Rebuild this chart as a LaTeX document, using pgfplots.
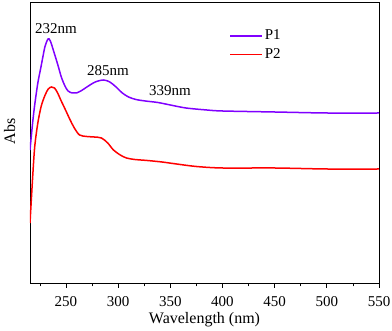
\documentclass[border=0pt]{standalone}
\usepackage{fontspec}
\setmainfont{Liberation Serif}
\usepackage{pgfplots}
\pgfplotsset{compat=1.18}
\definecolor{pviolet}{RGB}{128,0,255}
\definecolor{pred}{RGB}{255,0,0}

\begin{document}
\fontsize{15}{18}\selectfont
\begin{tikzpicture}
\begin{axis}[
  at={(30pt,48pt)}, anchor=south west,
  scale only axis,
  width=349pt, height=281pt,
  xmin=215.5, xmax=550,
  ymin=0, ymax=281,
  xtick={250,300,...,550},
  minor xtick={225,275,...,525},
  ytick=\empty,
  xtick pos=bottom,
  tick align=outside,
  major tick length=5pt,
  minor tick length=3.5pt,
  every tick/.style={black, line width=0.8pt},
  axis line style={line width=0.9pt},
  /pgf/number format/assume math mode=true,
  xticklabel style={font=\fontsize{15}{18}\selectfont, yshift=-3pt},
  xlabel={Wavelength (nm)},
  ylabel={Abs},
  xlabel style={font=\fontsize{16}{18}\selectfont,
                at={(axis description cs:0.5,0)}, anchor=center, yshift=-37pt},
  ylabel style={font=\fontsize{16}{18}\selectfont,
                at={(axis description cs:-0.058,0.54)}, anchor=center},
  legend style={at={(0.562,0.915)}, anchor=north west, draw=none, fill=none,
                font=\fontsize{15}{18}\selectfont, row sep=2pt},
  legend cell align=left,
  legend image code/.code={\draw[#1] (0pt,0pt) -- (32pt,0pt);},
]
% P1 (values as height above the bottom axis)
\addplot[pviolet, line width=1.5pt, smooth, tension=0.5] coordinates {
  (215.5,133) (218,160) (220,178) (223,200) (226,216) (228,227)
  (230,237) (232.8,244) (235,242) (239,229) (242.5,217) (245.5,206)
  (249,197) (252,192) (256,190) (260,190) (265,192.5) (270,196)
  (278,201) (286,203) (292,201) (298,196) (304,190) (310,186)
  (317,183.5) (326,182) (338,180.5) (350,178) (365,175) (385,173)
  (400,172) (450,171) (500,170) (550,170)
};
\addlegendentry{P1}
% P2
\addplot[pred, line width=1.5pt, smooth, tension=0.5] coordinates {
  (215.5,60) (218,105) (220,136) (223,160) (226.3,177) (230,188)
  (233,194) (236,196) (239,195) (242,190) (245,183) (250,172)
  (254,163) (258,155) (263,148) (270,146.5) (277,146) (284,145)
  (290,140) (295.5,133) (302,128) (308,125) (316,123.5) (328,122.5)
  (342,121) (356,119) (375,116.5) (400,115) (450,115) (500,114) (550,114)
};
\addlegendentry{P2}
\node[font=\fontsize{15}{18}\selectfont] at (axis cs:240.4,254) {232nm};
\node[font=\fontsize{15}{18}\selectfont] at (axis cs:290.3,212) {285nm};
\node[font=\fontsize{15}{18}\selectfont] at (axis cs:349.6,192) {339nm};
\end{axis}
\pgfresetboundingbox
\useasboundingbox (0,0) rectangle (392pt,331pt);
\end{tikzpicture}
\end{document}
